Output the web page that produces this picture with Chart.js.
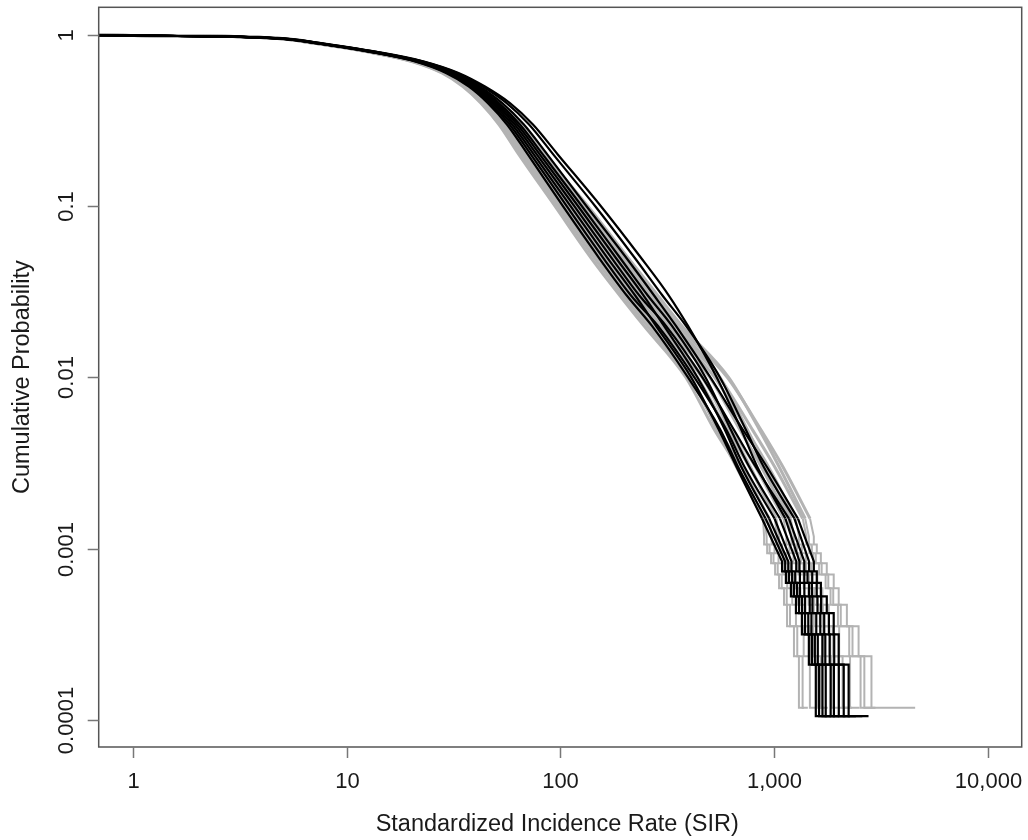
<!DOCTYPE html>
<html>
<head>
<meta charset="utf-8">
<title>Cumulative probability of SIR</title>
<script src="https://cdn.jsdelivr.net/npm/chart.js@4.4.1/dist/chart.umd.min.js"></script>
<style>
  html, body { margin: 0; padding: 0; background: #fff; }
  #wrap { width: 1028px; height: 840px; }
</style>
</head>
<body>
<div id="wrap"><canvas id="chart" width="1028" height="840"></canvas></div>
<script>
// probability levels the smooth part of every curve is read at
const probLevels = [1, 0.99, 0.95, 0.9, 0.8, 0.7, 0.6, 0.5, 0.4, 0.3, 0.2, 0.1, 0.05, 0.03, 0.02, 0.01, 0.005, 0.003, 0.0015];

const xTicks = [1, 10, 100, 1000, 10000];
const xTickLabels = ['1', '10', '100', '1,000', '10,000'];
const yTicks = [1, 0.1, 0.01, 0.001, 0.0001];
const yTickLabels = ['1', '0.1', '0.01', '0.001', '0.0001'];

const xTitle = 'Standardized Incidence Rate (SIR)';
const yTitle = 'Cumulative Probability';

// observed curves (black): SIR at each probLevel
const observedN = 9500;
const observedBody = [
  [0.5, 1.43, 5.32, 7.36, 13.56, 22.96, 33.33, 44.31, 58.02, 74.33, 97.34, 154.7, 238.2, 322.2, 395.4, 539.3, 700.0, 835.3, 1130],
  [0.5, 1.43, 5.29, 7.31, 13.45, 22.72, 32.83, 43.17, 55.99, 71.28, 92.69, 145.5, 222.5, 300.9, 387.0, 558.2, 734.8, 895.1, 1245],
  [0.5, 1.42, 5.24, 7.24, 13.28, 22.35, 32.09, 41.70, 53.39, 67.39, 86.90, 132.5, 203.2, 274.9, 347.4, 503.3, 711.0, 926.4, 1294],
  [0.5, 1.41, 5.19, 7.17, 13.11, 21.99, 31.38, 40.64, 51.53, 64.61, 82.80, 126.0, 189.9, 256.9, 332.7, 477.8, 624.9, 766.2, 1065],
  [0.5, 1.40, 5.15, 7.12, 13.00, 21.76, 30.91, 39.94, 50.32, 62.83, 80.16, 121.0, 181.5, 245.5, 305.2, 438.4, 585.8, 702.9, 948.5],
  [0.5, 1.40, 5.12, 7.08, 12.89, 21.52, 30.44, 39.26, 49.14, 61.10, 77.61, 116.1, 173.4, 234.6, 312.0, 461.6, 645.5, 821.1, 1174],
  [0.5, 1.39, 5.09, 7.03, 12.78, 21.29, 29.99, 38.59, 47.99, 59.41, 75.13, 111.5, 165.8, 224.2, 280.0, 409.2, 549.1, 667.5, 877.7],
  [0.5, 1.38, 5.05, 6.98, 12.67, 21.07, 29.54, 37.93, 46.87, 57.77, 72.75, 107.0, 158.4, 214.3, 286.2, 423.5, 595.4, 727.6, 1005],
  [0.5, 1.38, 5.02, 6.94, 12.56, 20.84, 29.10, 37.28, 45.77, 56.17, 70.43, 102.7, 151.4, 204.8, 268.2, 395.3, 558.1, 679.1, 912.5]
];
// SIR of the 8 largest values (rank 8 .. rank 1)
const observedTail = [
  [1315, 1385, 1457, 1512, 1646, 1737, 1906, 2268],
  [1458, 1509, 1583, 1660, 1806, 1912, 2119, 2590],
  [1535, 1585, 1656, 1765, 1902, 2007, 2234, 2768],
  [1270, 1321, 1386, 1469, 1576, 1683, 1840, 2161],
  [1166, 1215, 1280, 1353, 1446, 1552, 1685, 1930],
  [1385, 1434, 1503, 1597, 1717, 1822, 2009, 2417],
  [1090, 1136, 1199, 1266, 1350, 1455, 1568, 1765],
  [1207, 1256, 1321, 1397, 1496, 1602, 1745, 2019],
  [1127, 1175, 1239, 1309, 1396, 1503, 1624, 1849]
];

// simulated curves (grey)
const simulatedN = 8500;
const simulatedBody = [
  [0.5, 1.36, 4.91, 6.79, 12.29, 20.17, 27.87, 34.96, 42.45, 51.54, 63.92, 94.3, 138.9, 190.0, 246.0, 386.5, 523.2, 673.4, 900.9],
  [0.5, 1.37, 4.94, 6.83, 12.37, 20.35, 28.20, 35.47, 43.24, 52.70, 65.55, 97.3, 144.0, 197.1, 255.2, 401.8, 546.3, 705.3, 948.7],
  [0.5, 1.37, 4.97, 6.87, 12.46, 20.53, 28.53, 35.99, 44.05, 53.89, 67.23, 100.5, 149.2, 204.6, 264.8, 409.6, 540.3, 666.2, 887.4],
  [0.5, 1.38, 5.00, 6.91, 12.54, 20.71, 28.86, 36.52, 44.86, 55.11, 68.94, 103.8, 154.7, 212.2, 274.8, 438.3, 598.6, 766.1, 1025],
  [0.5, 1.38, 5.03, 6.95, 12.63, 20.89, 29.20, 37.05, 45.70, 56.35, 70.71, 107.1, 160.4, 220.2, 285.1, 460.1, 635.2, 819.1, 1108],
  [0.5, 1.39, 5.06, 6.99, 12.71, 21.07, 29.54, 37.60, 46.55, 57.62, 72.52, 110.6, 166.2, 228.5, 295.8, 464.6, 618.3, 774.4, 1010],
  [0.5, 1.39, 5.09, 7.04, 12.81, 21.28, 29.92, 38.21, 47.52, 59.07, 74.56, 114.6, 173.0, 238.0, 308.2, 499.7, 688.7, 872.1, 1167],
  [0.5, 1.40, 5.12, 7.08, 12.90, 21.47, 30.28, 38.77, 48.41, 60.40, 76.47, 118.3, 179.3, 247.0, 319.8, 527.1, 738.7, 942.5, 1261],
  [0.5, 1.41, 5.15, 7.12, 12.99, 21.65, 30.63, 39.34, 49.29, 61.76, 78.43, 122.2, 185.9, 256.3, 331.8, 553.4, 787.9, 1008, 1362],
  [0.5, 1.41, 5.18, 7.16, 13.07, 21.84, 30.99, 39.91, 50.21, 63.15, 80.44, 126.2, 192.7, 265.9, 344.2, 558.8, 746.8, 918.5, 1197],
  [0.5, 1.42, 5.21, 7.20, 13.16, 22.04, 31.35, 40.50, 51.15, 64.57, 82.49, 130.3, 199.7, 275.9, 357.2, 603.8, 863.7, 1101, 1473],
  [0.5, 1.42, 5.24, 7.25, 13.25, 22.23, 31.72, 41.09, 52.10, 66.03, 84.60, 134.5, 207.0, 286.2, 370.5, 612.6, 850.0, 1057, 1398]
];
// SIR of the 10 largest values (rank 10 .. rank 1)
const simulatedTail = [
  [923, 953, 994, 1040, 1086, 1146, 1187, 1284, 1360, 1439],
  [974, 1005, 1049, 1098, 1152, 1216, 1266, 1376, 1471, 1568],
  [898, 928, 968, 1011, 1055, 1113, 1150, 1239, 1307, 1379],
  [1055, 1090, 1136, 1195, 1259, 1328, 1393, 1527, 1654, 1784],
  [1142, 1180, 1232, 1299, 1376, 1451, 1535, 1698, 1860, 2029],
  [1028, 1061, 1106, 1161, 1223, 1291, 1350, 1476, 1594, 1709],
  [1206, 1246, 1300, 1373, 1460, 1540, 1638, 1818, 2011, 2216],
  [1307, 1350, 1408, 1493, 1594, 1683, 1802, 2017, 2268, 2514],
  [1416, 1463, 1527, 1624, 1743, 1838, 1991, 2248, 2541, 2857],
  [1239, 1280, 1335, 1411, 1503, 1585, 1692, 1882, 2093, 2316],
  [1535, 1585, 1656, 1765, 1902, 2007, 2192, 2487, 2857, 4576],
  [1455, 1503, 1568, 1670, 1794, 1892, 2052, 2329, 2646, 2983]
];

function bodyPoints(body) {
  return body.map((sir, i) => ({ x: sir, y: probLevels[i] }));
}

// empirical steps k/N for the largest values, joined to the end of the body
function tailPoints(body, tail, n) {
  const last = body.length - 1;
  const pts = [{ x: body[last], y: probLevels[last] }];
  const top = tail.length;
  tail.forEach((sir, i) => {
    const rank = top - i;
    pts.push({ x: sir, y: rank / n });
    if (rank > 1) pts.push({ x: sir, y: (rank - 1) / n });
  });
  return pts;
}

function lineSet(points, color, width, smooth) {
  return {
    data: points,
    borderColor: color,
    borderWidth: width,
    pointRadius: 0,
    fill: false,
    tension: smooth ? 0.4 : 0,
    cubicInterpolationMode: smooth ? 'monotone' : 'default'
  };
}

const datasets = [];
observedBody.forEach((b, i) => {
  datasets.push(lineSet(bodyPoints(b), '#000000', 2.2, true));
  datasets.push(lineSet(tailPoints(b, observedTail[i], observedN), '#000000', 2.2, false));
});
simulatedBody.forEach((b, i) => {
  datasets.push(lineSet(bodyPoints(b), '#b3b3b3', 3, true));
  datasets.push(lineSet(tailPoints(b, simulatedTail[i], simulatedN), '#b3b3b3', 2, false));
});

const FAMILY = '"Liberation Sans", Arial, Helvetica, sans-serif';

const framePlugin = {
  id: 'frame',
  afterDatasetsDraw(chart) {
    const { ctx, chartArea: a, scales: { x, y } } = chart;
    ctx.save();
    ctx.strokeStyle = '#555';
    ctx.lineWidth = 1.5;
    ctx.strokeRect(a.left, a.top, a.right - a.left, a.bottom - a.top);

    ctx.font = '22px ' + FAMILY;
    ctx.fillStyle = '#1a1a1a';
    ctx.textAlign = 'center';
    ctx.textBaseline = 'middle';
    ctx.strokeStyle = '#777';

    xTicks.forEach((v, i) => {
      const px = Math.round(x.getPixelForValue(v)) + 0.5;
      ctx.beginPath();
      ctx.moveTo(px, a.bottom);
      ctx.lineTo(px, a.bottom + 11);
      ctx.stroke();
      ctx.fillText(xTickLabels[i], px, a.bottom + 35);
    });

    yTicks.forEach((v, i) => {
      const py = Math.round(y.getPixelForValue(v)) + 0.5;
      ctx.beginPath();
      ctx.moveTo(a.left, py);
      ctx.lineTo(a.left - 11, py);
      ctx.stroke();
      ctx.save();
      ctx.translate(a.left - 32, py);
      ctx.rotate(-Math.PI / 2);
      ctx.fillText(yTickLabels[i], 0, 0);
      ctx.restore();
    });

    ctx.font = '23.5px ' + FAMILY;
    ctx.fillText(xTitle, (a.left + a.right) / 2 - 3, a.bottom + 78);
    ctx.save();
    ctx.translate(a.left - 76, (a.top + a.bottom) / 2);
    ctx.rotate(-Math.PI / 2);
    ctx.fillText(yTitle, 0, 0);
    ctx.restore();
    ctx.restore();
  }
};

new Chart(document.getElementById('chart'), {
  type: 'line',
  data: { datasets },
  options: {
    responsive: false,
    devicePixelRatio: 1,
    animation: false,
    layout: { padding: { left: 98.7, right: 6.3, top: 7.3, bottom: 93 } },
    plugins: { legend: { display: false }, tooltip: { enabled: false } },
    scales: {
      x: { type: 'logarithmic', display: false, bounds: 'data', min: 0.689, max: 14430 },
      y: { type: 'logarithmic', display: false, bounds: 'data', min: 6.95e-5, max: 1.451 }
    }
  },
  plugins: [framePlugin]
});
</script>
</body>
</html>
